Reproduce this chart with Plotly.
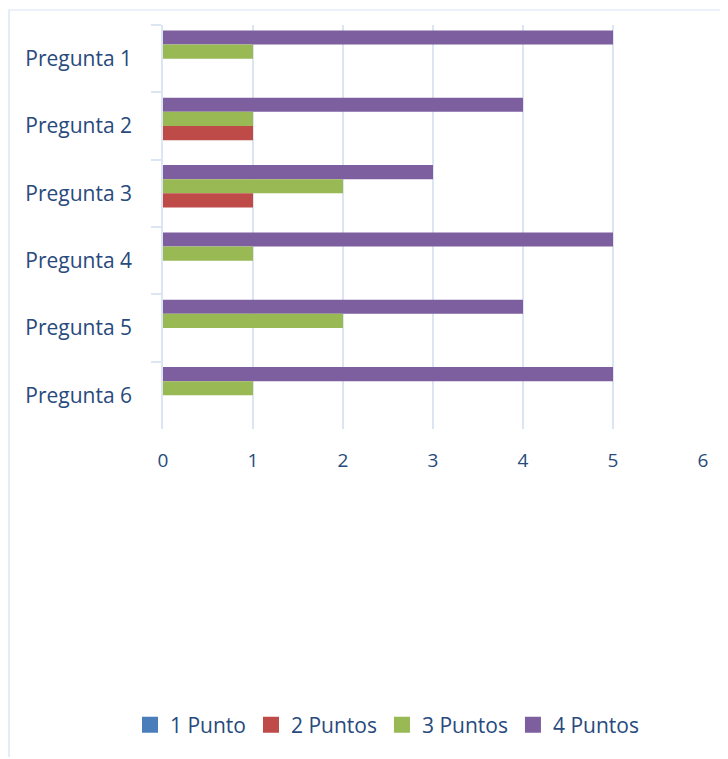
import plotly.graph_objects as go

categories = ["Pregunta 1", "Pregunta 2", "Pregunta 3", "Pregunta 4", "Pregunta 5", "Pregunta 6"]
series_names = ["1 Punto", "2 Puntos", "3 Puntos", "4 Puntos"]
punto1 = [0, 0, 0, 0, 0, 0]
puntos2 = [0, 1, 1, 0, 0, 0]
puntos3 = [1, 1, 2, 1, 2, 1]
puntos4 = [5, 4, 3, 5, 4, 5]
x_ticks = [0, 1, 2, 3, 4, 5, 6]

colors = ["#4A7EBB", "#BE4B48", "#98B954", "#7D5FA0"]
values = [punto1, puntos2, puntos3, puntos4]

OFF = 8  # page body margin
W, H = 728 - OFF, 759 - OFF
L, T = 163 - OFF, 25 - OFF
R = 728 - 703
B = H - (429 - OFF)
pw, ph = W - L - R, H - T - B

def px_x(p):
    return (p - OFF - L) / pw

def px_y(p):
    return (H - B - (p - OFF)) / ph

fig = go.Figure()
for name, vals, col in reversed(list(zip(series_names, values, colors))):
    fig.add_trace(go.Bar(
        y=categories, x=vals, name=name, orientation="h",
        marker=dict(color=col, line=dict(width=0)), showlegend=False,
    ))
for name, col in zip(series_names, colors):
    fig.add_trace(go.Scatter(
        x=[None], y=[categories[0]], mode="markers", name=name,
        marker=dict(symbol="square", size=16, color=col), showlegend=True,
    ))

text_color = "#284A7C"
grid_color = "#DCE6F2"
border_color = "#E4ECF7"

fig.update_layout(
    width=W, height=H,
    margin=dict(l=L, r=R, t=T, b=B),
    paper_bgcolor="white", plot_bgcolor="white",
    barmode="group", bargap=0.16, bargroupgap=0,
    font=dict(family="Open Sans", size=20, color=text_color),
    showlegend=True,
    legend=dict(orientation="h", traceorder="normal",
                x=px_x(387), xanchor="center", y=px_y(725), yanchor="middle",
                font=dict(size=21, color=text_color), itemwidth=30),
    xaxis=dict(range=[0, 6], tickvals=x_ticks, showgrid=True, gridcolor=grid_color, gridwidth=1.5,
               zeroline=False, showline=False, ticks="", ticklabelstandoff=18,
               tickfont=dict(size=19, color=text_color)),
    yaxis=dict(autorange="reversed", showgrid=False, zeroline=False,
               showline=True, linecolor=grid_color, linewidth=1.5,
               ticks="outside", tickson="boundaries", ticklen=10, tickcolor=grid_color,
               tickwidth=1.5, ticklabelstandoff=25,
               tickfont=dict(size=21, color=text_color)),
    shapes=[
        dict(type="line", xref="paper", yref="paper",
             x0=px_x(8), x1=px_x(728), y0=px_y(10), y1=px_y(10),
             line=dict(color=border_color, width=1.5), layer="below"),
        dict(type="line", xref="paper", yref="paper",
             x0=px_x(9), x1=px_x(9), y0=px_y(757), y1=px_y(10),
             line=dict(color=border_color, width=2), layer="below"),
    ],
)

fig.write_html("out.html")
